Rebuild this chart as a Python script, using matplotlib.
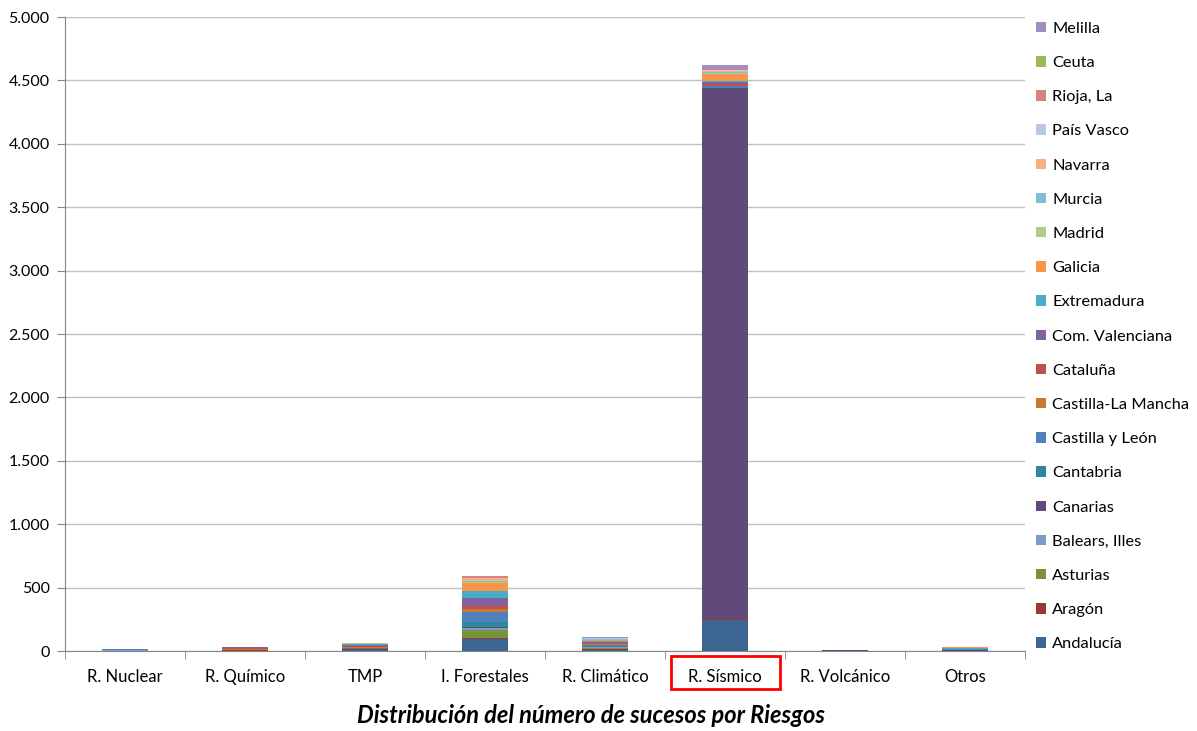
import matplotlib.pyplot as plt
from matplotlib.patches import Rectangle
from matplotlib.ticker import FuncFormatter
import numpy as np

# Categorias de riesgo
riesgos = ["R. Nuclear", "R. Químico", "TMP", "I. Forestales", "R. Climático",
           "R. Sísmico", "R. Volcánico", "Otros"]

# Numero de sucesos por comunidad
andalucia = [3, 3, 8, 92, 10, 245, 0, 3]
aragon = [1, 6, 5, 13, 8, 5, 0, 0]
asturias = [0, 1, 3, 58, 8, 2, 0, 0]
balears = [7, 0, 1, 15, 4, 3, 0, 1]
canarias = [0, 0, 2, 10, 4, 4183, 8, 1]
cantabria = [0, 0, 1, 40, 6, 2, 0, 0]
castilla_leon = [5, 2, 6, 78, 10, 15, 0, 8]
castilla_mancha = [0, 3, 6, 27, 4, 5, 0, 1]
cataluna = [1, 10, 10, 21, 12, 10, 0, 3]
valenciana = [0, 4, 8, 66, 8, 15, 0, 1]
extremadura = [2, 0, 3, 53, 3, 14, 0, 2]
galicia = [0, 1, 4, 60, 10, 55, 0, 10]
madrid = [0, 2, 3, 10, 3, 2, 0, 1]
murcia = [0, 0, 3, 10, 3, 12, 0, 3]
navarra = [0, 0, 2, 21, 3, 10, 0, 0]
pais_vasco = [0, 1, 1, 5, 6, 5, 0, 1]
rioja = [0, 0, 1, 10, 3, 5, 0, 0]
ceuta = [0, 0, 0, 1, 1, 2, 0, 0]
melilla = [0, 0, 0, 2, 2, 30, 0, 0]

series = [
    ("Andalucía", andalucia, "#3D6695"),
    ("Aragón", aragon, "#963A38"),
    ("Asturias", asturias, "#77933C"),
    ("Balears, Illes", balears, "#7E9BC8"),
    ("Canarias", canarias, "#604A7B"),
    ("Cantabria", cantabria, "#31859C"),
    ("Castilla y León", castilla_leon, "#4F81BD"),
    ("Castilla-La Mancha", castilla_mancha, "#C8782F"),
    ("Cataluña", cataluna, "#C0504D"),
    ("Com. Valenciana", valenciana, "#8064A2"),
    ("Extremadura", extremadura, "#4BACC6"),
    ("Galicia", galicia, "#F79646"),
    ("Madrid", madrid, "#B3CB8A"),
    ("Murcia", murcia, "#7FBFD2"),
    ("Navarra", navarra, "#FAB07C"),
    ("País Vasco", pais_vasco, "#B9C9E3"),
    ("Rioja, La", rioja, "#D38482"),
    ("Ceuta", ceuta, "#9BBB59"),
    ("Melilla", melilla, "#A08EC0"),
]

plt.rcParams['font.family'] = ['Lato', 'DejaVu Sans']

fig = plt.figure(figsize=(11.97, 7.31), dpi=100)
ax = fig.add_axes([0.0543, 0.1094, 0.8020, 0.8673])

x = np.arange(len(riesgos))
bottom = np.zeros(len(riesgos))
handles = []
for nombre, valores, color in series:
    b = ax.bar(x, valores, width=0.39, bottom=bottom, color=color, label=nombre, zorder=3)
    bottom += np.array(valores)
    handles.append(b)

ax.set_xlim(-0.5, len(riesgos) - 0.5)
ax.set_ylim(0, 5000)
ax.set_yticks(np.arange(0, 5001, 500))
ax.yaxis.set_major_formatter(FuncFormatter(lambda v, p: f"{int(v):,}".replace(",", ".")))
ax.grid(axis='y', color='#BFBFBF', linewidth=1, zorder=0)

ax.set_xticks(x)
ax.set_xticklabels(riesgos)
ax.set_xticks(np.arange(-0.5, len(riesgos)), minor=True)
ax.tick_params(axis='x', which='major', length=0, pad=13, labelsize=12, colors='black')
ax.tick_params(axis='x', which='minor', length=6, color='#868686', direction='out')
ax.tick_params(axis='y', length=6, color='#868686', labelsize=11.5, colors='black', pad=5)

for s in ['top', 'right']:
    ax.spines[s].set_visible(False)
for s in ['left', 'bottom']:
    ax.spines[s].set_color('#868686')

# Leyenda (orden inverso como en el original)
leg = fig.legend(handles[::-1], [s[0] for s in series][::-1],
                 loc='upper left', bbox_to_anchor=(0.860, 0.979),
                 frameon=False, fontsize=11.8, handlelength=0.6, handleheight=0.6,
                 handletextpad=0.4, labelspacing=1.232, borderaxespad=0)

# Titulo inferior
fig.text(0.494, 0.005, "Distribución del número de sucesos por Riesgos",
         ha='center', va='bottom', fontsize=17, fontweight='bold', style='italic')

# Recuadro rojo en R. Sismico
fig.patches.append(Rectangle((671 / 1197, 1 - 689 / 731), 109 / 1197, 33 / 731,
                             transform=fig.transFigure, fill=False,
                             edgecolor='red', linewidth=2))

plt.savefig("out.png", dpi=100)
plt.close()
